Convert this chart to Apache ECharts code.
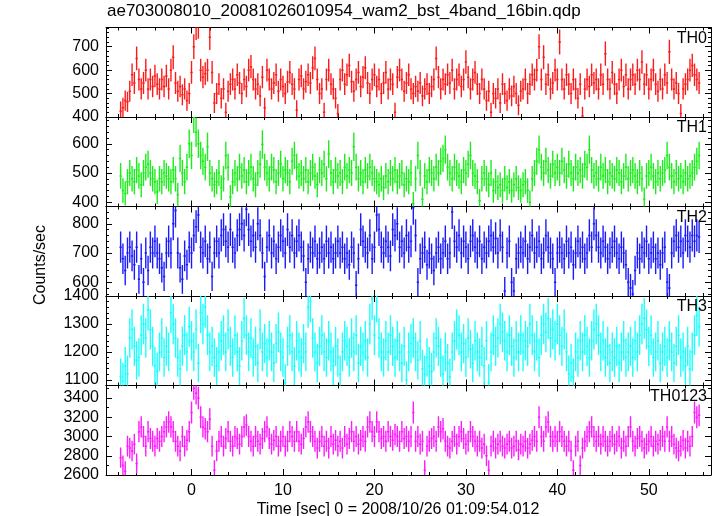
<!DOCTYPE html>
<html><head><meta charset="utf-8">
<script src="https://cdn.jsdelivr.net/npm/echarts@6/dist/echarts.min.js"></script>
<style>html,body{margin:0;padding:0;background:#fff}#c{width:717px;height:516px}</style>
</head><body><div id="c"></div>
<script>
// ---- data (0.25 s bins, first bin centre at -7.75 s) ----
const binStart = -7.75;
const binWidth = 0.25;
const th0 = [
425,440,470,465,510,580,545,650,560,520,545,600,520,560,530,575,
540,520,560,530,575,520,600,655,545,510,530,495,520,470,500,590,
700,785,790,600,570,585,600,740,590,460,500,540,480,520,420,510,
540,560,520,580,545,500,560,530,600,615,560,520,540,490,570,440,
600,560,520,545,580,510,560,530,500,550,590,540,520,430,560,575,
520,550,580,545,610,650,560,500,520,420,560,600,540,520,480,415,
560,600,540,580,620,550,510,560,590,530,570,610,545,500,560,580,
530,560,500,545,590,520,560,540,420,570,600,560,510,545,580,520,
500,530,510,545,490,520,540,500,530,560,650,570,520,560,540,580,
545,600,520,560,580,530,560,635,570,520,560,590,540,500,560,520,
470,510,420,500,480,520,460,540,500,470,520,490,530,500,450,510,
520,560,500,540,580,560,600,700,560,655,540,580,520,545,600,560,
720,560,520,580,540,500,560,520,480,540,404,520,560,530,580,545,
560,520,580,540,670,560,520,590,540,500,560,600,530,580,520,560,
580,540,600,560,635,540,580,520,560,600,540,510,560,520,580,545,
678,560,520,545,500,415,520,540,560,600,620,580,560,545];
const th1 = [
490,440,430,470,500,480,470,510,490,460,500,520,530,500,480,470,
435,480,470,500,490,480,470,510,480,425,550,500,470,520,600,560,
690,640,600,560,540,520,590,500,480,460,470,500,450,480,560,520,
418,470,500,480,520,490,510,470,500,520,480,460,500,530,598,520,
500,480,520,510,470,500,530,480,510,500,470,540,560,520,490,500,
480,510,470,500,520,490,460,510,500,530,480,565,500,470,510,490,
500,470,520,490,510,500,590,520,480,500,470,510,490,520,500,480,
470,460,480,450,490,470,500,480,510,470,490,500,460,480,470,500,
395,480,560,500,410,490,470,510,500,480,520,500,540,550,580,520,
500,480,520,500,490,470,510,500,530,560,500,490,470,405,480,500,
480,460,500,440,470,450,460,440,480,450,470,440,460,480,450,440,
460,470,440,400,480,500,540,580,520,500,540,510,490,530,500,520,
500,540,510,490,530,500,480,520,500,510,490,530,520,580,510,490,
500,480,520,490,510,470,500,490,480,510,500,470,490,520,480,500,
510,490,470,500,480,410,490,500,520,490,470,500,480,500,510,560,
520,490,470,500,480,490,470,500,480,490,500,520,540,560];
const th2 = [
720,680,640,700,720,690,660,720,610,680,600,700,640,720,700,740,
700,680,650,620,700,740,700,800,845,700,650,610,690,660,720,700,
760,790,830,720,700,740,680,720,620,700,740,700,760,780,740,720,
780,720,700,760,780,800,760,850,780,740,760,720,800,760,700,620,
720,760,700,740,680,720,760,740,700,780,720,760,700,740,760,720,
690,600,680,720,700,740,680,700,720,680,740,700,720,680,700,740,
700,720,680,700,660,720,700,590,680,780,740,720,700,760,680,720,
830,780,720,700,740,720,690,780,760,800,720,740,700,760,720,740,
855,760,600,680,700,720,660,700,680,640,700,720,680,700,740,680,
700,840,740,720,760,700,740,720,680,740,760,720,700,740,680,720,
700,740,760,720,750,700,760,720,570,700,740,600,570,680,700,720,
700,740,680,720,760,700,720,740,680,700,760,720,700,680,600,700,
720,700,680,740,700,720,660,700,740,700,720,680,700,760,720,800,
760,720,700,740,720,680,700,720,740,700,680,720,700,660,600,580,
560,640,700,680,720,700,740,680,700,720,680,700,660,700,720,600,
580,700,740,760,720,740,700,760,740,720,760,740,760,755];
const th3 = [
1110,1095,1150,1120,1250,1280,1220,1170,1180,1260,1300,1250,1350,1280,1220,1150,
1130,1200,1250,1180,1220,1200,1340,1300,1250,1180,1140,1220,1260,1200,1290,1240,
1200,1280,1160,1340,1300,1360,1260,1200,1220,1180,1150,1200,1240,1260,1200,1280,
1220,1180,1260,1200,1150,1240,1320,1260,1200,1250,1180,1220,1160,1280,1200,1230,
1180,1240,1200,1160,1230,1270,1200,1180,1090,1220,1260,1200,1150,1240,1200,1180,
1230,1200,1360,1380,1250,1200,1160,1220,1260,1200,1180,1240,1200,1150,1220,1180,
1120,1200,1240,1220,1180,1250,1200,1260,1160,1220,1200,1240,1180,1300,1390,1260,
1380,1250,1200,1180,1240,1200,1260,1220,1180,1240,1200,1160,1220,1100,1200,1230,
1250,1200,1170,1240,1140,1120,1180,1150,1130,1200,1250,1220,1180,1120,1200,1160,
1110,1200,1240,1280,1260,1200,1230,1180,1250,1210,1160,1240,1200,1180,1220,1150,
1240,1090,1200,1260,1220,1250,1300,1270,1240,1200,1260,1220,1180,1240,1200,1260,
1200,1240,1220,1300,1260,1200,1240,1180,1260,1300,1270,1320,1250,1280,1240,1300,
1260,1220,1280,1200,1120,1160,1110,1200,1180,1240,1200,1260,1220,1180,1240,1280,
1300,1260,1200,1240,1180,1220,1160,1200,1180,1220,1160,1200,1240,1180,1200,1220,
1180,1240,1200,1260,1300,1320,1280,1220,1260,1180,1200,1240,1160,1200,1220,1180,
1240,1200,1160,1220,1260,1180,1200,1150,1220,1140,1200,1260,1330,1290];
const th0123 = [
2780,2700,2640,2900,2880,2850,2920,2720,3050,3100,3000,2900,3050,2980,2950,2900,
2980,2950,3000,3050,3100,3150,3100,3050,2950,2900,2850,3000,2900,2960,3050,3250,
3500,3450,3400,3200,3100,3080,3050,3180,2900,2650,2850,2950,3000,2900,2980,3050,
2950,2900,3000,2980,2920,3000,3100,3120,3000,2950,2900,3000,2950,2920,2980,3050,
3100,2980,2920,2960,3000,2900,2950,3000,2900,2950,3050,3000,2950,3050,2950,2920,
2980,3100,3150,3050,3000,2950,2880,2950,3000,2900,2950,2880,3000,2920,2960,2900,
2950,2880,3000,2920,2980,3050,2950,3000,2920,2960,3000,2950,3100,3150,3050,3000,
3150,3050,2980,3000,2950,3050,3000,2960,3020,3000,2950,3050,2980,3000,2950,3000,
3250,2950,3000,2920,2950,2650,2900,2950,2980,3000,2950,3100,3050,3080,2950,2900,
2880,2950,3000,2920,3000,3050,2980,2920,2950,3050,3000,2950,2900,2950,2880,2920,
2800,2650,2900,2950,2880,2920,2950,2900,2880,2920,2950,2880,2900,2950,2860,2920,
2900,2950,2880,2920,2960,3000,2950,3200,3000,2950,3100,3150,3000,2950,3000,2950,
3050,3000,2950,2900,2950,2850,2650,2900,2950,2700,2880,2950,3000,3050,3100,3000,
2950,3000,2920,3000,2950,2900,2950,3000,2920,2950,3000,2880,2950,2900,3000,3100,
2950,2900,2980,3000,2950,2880,2920,2950,3000,2900,2950,2920,2960,3000,2950,3100,
2950,3000,2920,2880,2850,2900,2960,2880,2950,2900,3000,3250,3200,3220];

const panelNames = ['TH0','TH1','TH2','TH3','TH0123'];
const yMins = [400, 385, 553, 1080, 2600];
const yMaxs = [782, 692, 859, 1400, 3530];
const yLabelValues = [[400,500,600,700],[400,500,600],[600,700,800],[1100,1200,1300,1400],[2600,2800,3000,3200,3400]];
const yMajorValues = [[400,500,600,700],[400,500,600],[600,700,800],[1100,1200,1300,1400],[2600,2800,3000,3200,3400]];
const yMinorStep = [20,20,20,20,100];
const xLabelValues = [0,10,20,30,40,50];
const xMinorStep = 2;
const xMin = -9.35, xMax = 56.8;
const titleText = 'ae703008010_20081026010954_wam2_bst_4band_16bin.qdp';
const xTitle = 'Time [sec] 0 = 2008/10/26 01:09:54.012';
const yTitle = 'Counts/sec';

// ---- layout / style ----
const seriesData = [th0, th1, th2, th3, th0123];
const colors = ['#ff1a1a','#1aee1a','#1a1aff','#1affff','#ff1aff'];
const FONT = 'Liberation Sans, Arial, sans-serif';
const gridLeft = 106, gridWidth = 605;
const panelTops = [27.5, 117, 206.5, 296, 385.5];
const panelH = 89.5;
const plain = v => String(v);

function minors(min, max, step, majors){
  const out = [];
  for (let v = Math.ceil(min/step)*step; v <= max + 1e-9; v += step){
    const r = Math.round(v*1000)/1000;
    if (!majors.some(m => Math.abs(m - r) < 1e-6)) out.push(r);
  }
  return out;
}
const xMinors = minors(xMin, xMax, xMinorStep, xLabelValues);

const grid = [], xAxis = [], yAxis = [], series = [], graphic = [];
const axisLine = {show:true, onZero:false, lineStyle:{color:'#000', width:1}};
const noLine = {show:false, onZero:false};
for (let i = 0; i < 5; i++){
  const g = {left:gridLeft, top:panelTops[i], width:gridWidth, height:panelH, containLabel:false};
  grid.push(Object.assign({}, g), Object.assign({}, g));
  const gm = 2*i, gn = 2*i+1;
  const last = i === 4;
  ['bottom','top'].forEach(pos => {
    xAxis.push({type:'value', gridIndex:gm, position:pos, min:xMin, max:xMax,
      axisLine, splitLine:{show:false},
      axisTick:{show:true, inside:true, length:6, customValues:xLabelValues, lineStyle:{color:'#000'}},
      axisLabel:{show: last && pos==='bottom', customValues:xLabelValues, formatter:plain, color:'#000', fontSize:16, fontFamily:FONT, margin:8}});
  });
  ['bottom','top'].forEach(pos => {
    xAxis.push({type:'value', gridIndex:gn, position:pos, min:xMin, max:xMax,
      axisLine:noLine, splitLine:{show:false}, axisLabel:{show:false},
      axisTick:{show:true, inside:true, length:3, customValues:xMinors, lineStyle:{color:'#000'}}});
  });
  const yMin = minors(yMins[i], yMaxs[i], yMinorStep[i], yMajorValues[i]);
  ['left','right'].forEach(pos => {
    yAxis.push({type:'value', gridIndex:gm, position:pos, min:yMins[i], max:yMaxs[i],
      axisLine, splitLine:{show:false},
      axisTick:{show:true, inside:true, length:6, customValues:yMajorValues[i], lineStyle:{color:'#000'}},
      axisLabel:{show: pos==='left', customValues:yLabelValues[i], formatter:plain, color:'#000', fontSize:16, fontFamily:FONT, margin:7}});
  });
  ['left','right'].forEach(pos => {
    yAxis.push({type:'value', gridIndex:gn, position:pos, min:yMins[i], max:yMaxs[i],
      axisLine:noLine, splitLine:{show:false}, axisLabel:{show:false},
      axisTick:{show:true, inside:true, length:3, customValues:yMin, lineStyle:{color:'#000'}}});
  });
  const col = colors[i];
  const data = seriesData[i].map((v, k) => [binStart + k*binWidth, v, Math.sqrt(v/binWidth)]);
  series.push({
    type:'custom', name:panelNames[i], xAxisIndex:4*i, yAxisIndex:4*i, clip:true, silent:true,
    data,
    renderItem(params, api){
      const t = api.value(0), v = api.value(1), e = api.value(2);
      const a = api.coord([t - binWidth/2, v]), b = api.coord([t + binWidth/2, v]);
      const c = api.coord([t, v + e]), d = api.coord([t, v - e]);
      return {type:'group', children:[
        {type:'line', shape:{x1:c[0], y1:c[1], x2:d[0], y2:d[1]}, style:{stroke:col, lineWidth:1.4}},
        {type:'line', shape:{x1:a[0], y1:a[1], x2:b[0], y2:b[1]}, style:{stroke:col, lineWidth:1.5}}
      ]};
    }
  });
  graphic.push({type:'text', right:10, top:panelTops[i] + 3, z:10,
    style:{text:panelNames[i], fill:'#000', fontSize:16, fontFamily:FONT}});
}
graphic.push({type:'text', left:107, top:3, style:{text:titleText, fill:'#000', fontSize:17, fontFamily:FONT}});
graphic.push({type:'text', x:398, y:510, style:{text:xTitle, fill:'#000', fontSize:16, fontFamily:FONT, align:'center', verticalAlign:'middle'}});
graphic.push({type:'text', x:41, y:265, rotation:Math.PI/2, style:{text:yTitle, fill:'#000', fontSize:16, fontFamily:FONT, align:'center', verticalAlign:'middle'}});

const chart = echarts.init(document.getElementById('c'), null, {renderer:'canvas'});
chart.setOption({animation:false, backgroundColor:'#fff', grid, xAxis, yAxis, series, graphic});
</script>
</body></html>
